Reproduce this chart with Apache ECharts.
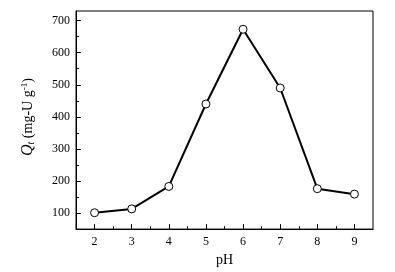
<!DOCTYPE html>
<html>
<head>
<meta charset="utf-8">
<script src="https://cdn.jsdelivr.net/npm/echarts@6/dist/echarts.min.js"></script>
<style>
  html, body { margin: 0; padding: 0; background: #fff; }
  #chart { width: 395px; height: 272px; }
</style>
</head>
<body>
<div id="chart"></div>
<script>
// pH vs adsorption capacity
const phValues = [2, 3, 4, 5, 6, 7, 8, 9];
const qtValues = [101, 113, 183, 440, 673, 490, 176, 159];
const xMajorTicks = [2, 3, 4, 5, 6, 7, 8, 9];
const xMinorTicks = [2.5, 3.5, 4.5, 5.5, 6.5, 7.5, 8.5];
const yMajorTicks = [100, 200, 300, 400, 500, 600, 700];
const yMinorTicks = [150, 250, 350, 450, 550, 650];

const font = 'Liberation Serif';
const chart = echarts.init(document.getElementById('chart'));

const option = {
  animation: false,
  grid: {
    left: 76, right: 22, top: 11, bottom: 42,
    show: true, borderColor: '#000', borderWidth: 1
  },
  xAxis: [
    {
      type: 'value', min: 1.5, max: 9.5,
      name: 'pH', nameLocation: 'middle', nameGap: 17,
      nameTextStyle: { fontFamily: font, fontSize: 14, color: '#000' },
      axisLine: { lineStyle: { color: '#000', width: 1 } },
      axisTick: { inside: true, length: 5, customValues: xMajorTicks, lineStyle: { color: '#000' } },
      axisLabel: { customValues: xMajorTicks, fontFamily: font, fontSize: 12, color: '#000', margin: 7 },
      splitLine: { show: false }
    },
    {
      type: 'value', min: 1.5, max: 9.5, position: 'bottom',
      axisLine: { show: false },
      axisTick: { inside: true, length: 3, customValues: xMinorTicks, lineStyle: { color: '#000' } },
      axisLabel: { show: false },
      splitLine: { show: false }
    }
  ],
  yAxis: [
    {
      type: 'value', min: 50, max: 730,
      name: '{q|Q}{sub|t}{n| (mg-U g}{sup|-1}{n|)}',
      nameLocation: 'middle', nameGap: 40, nameRotate: 90,
      nameTextStyle: {
        color: '#000',
        padding: [0, 0, 0, 6],
        rich: {
          q: { fontFamily: font, fontStyle: 'italic', fontSize: 16, color: '#000' },
          sub: { fontFamily: font, fontStyle: 'italic', fontSize: 10, color: '#000', verticalAlign: 'bottom', padding: [6, 0, 0, 0] },
          n: { fontFamily: font, fontSize: 14, color: '#000' },
          sup: { fontFamily: font, fontSize: 9, color: '#000', verticalAlign: 'top', padding: [0, 0, 6, 0] }
        }
      },
      axisLine: { show: true, lineStyle: { color: '#000', width: 1 } },
      axisTick: { inside: true, length: 5, customValues: yMajorTicks, lineStyle: { color: '#000' } },
      axisLabel: { customValues: yMajorTicks, fontFamily: font, fontSize: 12, color: '#000', margin: 6 },
      splitLine: { show: false }
    },
    {
      type: 'value', min: 50, max: 730, position: 'left',
      axisLine: { show: false },
      axisTick: { show: true, inside: true, length: 3, customValues: yMinorTicks, lineStyle: { color: '#000' } },
      axisLabel: { show: false },
      splitLine: { show: false }
    }
  ],
  series: [
    {
      type: 'line',
      data: phValues.map((p, i) => [p, qtValues[i]]),
      lineStyle: { color: '#000', width: 2 },
      symbol: 'circle',
      symbolSize: 8,
      itemStyle: { color: '#fff', borderColor: '#000', borderWidth: 1 }
    }
  ]
};

chart.setOption(option);
</script>
</body>
</html>
